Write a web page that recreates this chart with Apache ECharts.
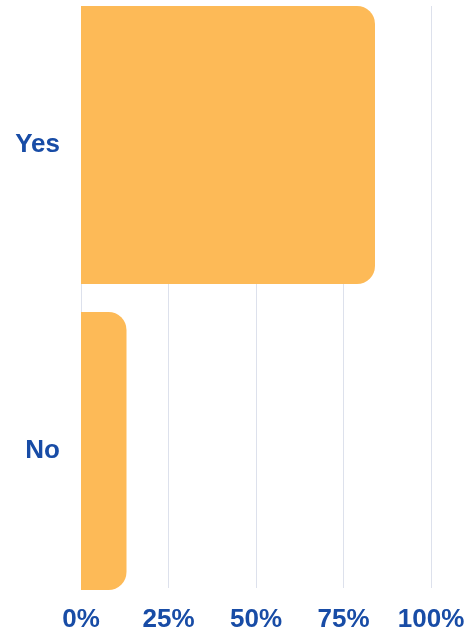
<!DOCTYPE html>
<html>
<head>
<meta charset="utf-8">
<style>html,body{margin:0;padding:0;background:#fff;}#c{width:468px;height:633px;}</style>
<script src="https://cdn.jsdelivr.net/npm/echarts@6/dist/echarts.min.js"></script>
</head>
<body>
<div id="c"></div>
<script>
const categories = ['Yes', 'No'];
const values = [84, 13];
const tickLabels = ['0%', '25%', '50%', '75%', '100%'];

const chart = echarts.init(document.getElementById('c'), null, {renderer: 'canvas'});
const labelColor = '#184CA6';
const font = 'Liberation Sans, Arial, sans-serif';
chart.setOption({
  animation: false,
  grid: [
    {left: 81, right: 37, top: 145, bottom: 182},
    {left: 81, right: 37, top: 6, bottom: 43}
  ],
  xAxis: [
    {gridIndex: 0, type: 'value', min: 0, max: 100, interval: 25,
     axisLine: {show: false}, axisTick: {show: false}, axisLabel: {show: false}, splitLine: {show: false}},
    {gridIndex: 1, type: 'value', min: 0, max: 100, interval: 25,
     axisLine: {show: false}, axisTick: {show: false},
     splitLine: {show: true, lineStyle: {color: '#DDE1EC', width: 1}},
     axisLabel: {margin: 19, color: labelColor, fontSize: 26, fontWeight: 'bold', fontFamily: font,
       formatter: v => tickLabels[v / 25]}}
  ],
  yAxis: [
    {gridIndex: 0, type: 'category', data: categories, inverse: true, boundaryGap: false,
     axisLine: {show: false}, axisTick: {show: false}, splitLine: {show: false},
     axisLabel: {margin: 21, color: labelColor, fontSize: 26, fontWeight: 'bold', fontFamily: font,
       padding: [4, 0, 0, 0]}},
    {gridIndex: 1, type: 'value', show: false, min: 0, max: 1}
  ],
  series: [{
    type: 'bar', xAxisIndex: 0, yAxisIndex: 0, data: values,
    barWidth: 278, clip: false,
    itemStyle: {color: '#FDBA57', borderRadius: [0, 18, 18, 0]},
    z: 3
  }]
});
</script>
</body>
</html>
